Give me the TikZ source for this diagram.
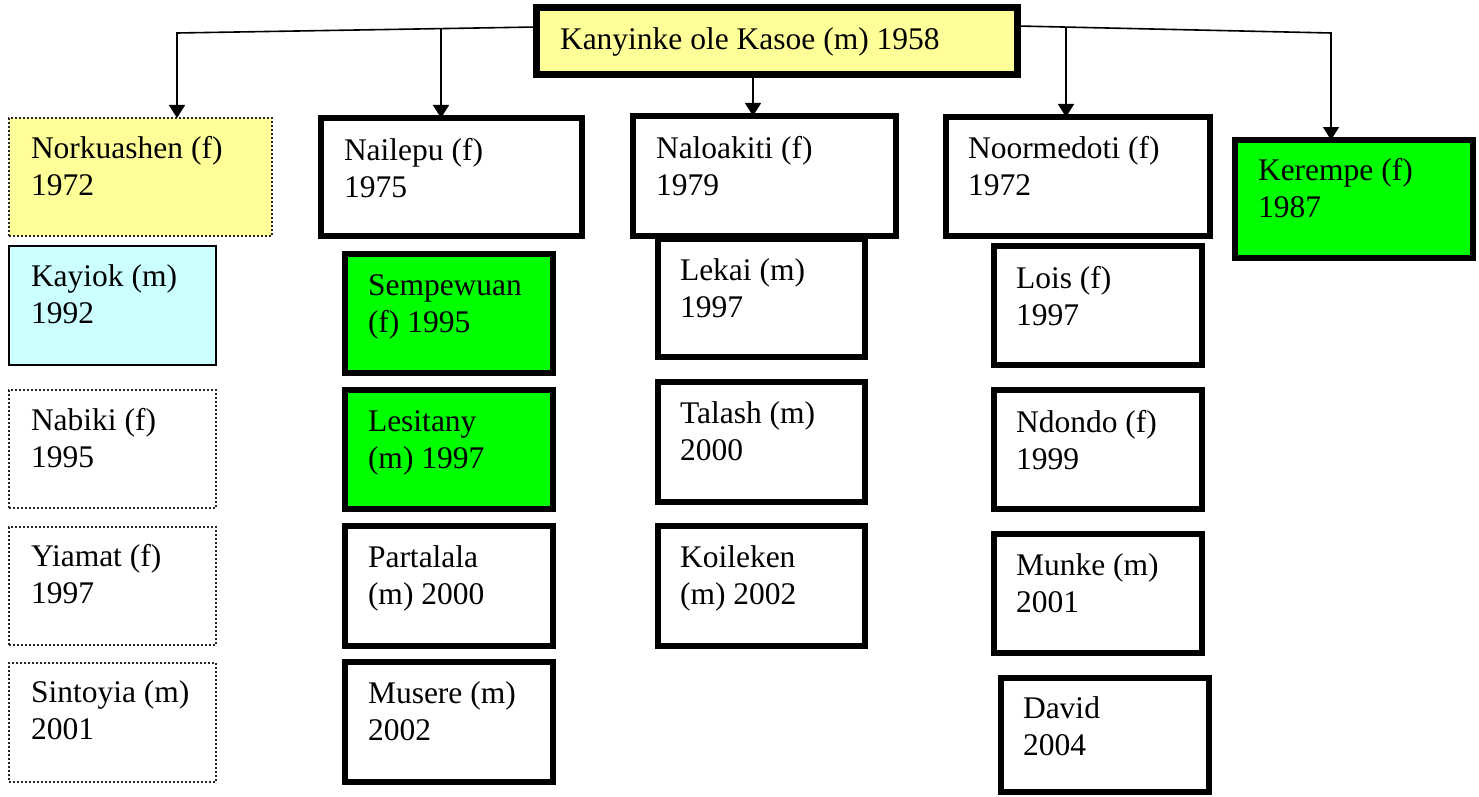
\documentclass[tikz,border=0pt]{standalone}
\usepackage{fontspec}
\setmainfont{Liberation Serif}
\usetikzlibrary{arrows.meta}

\definecolor{paleyellow}{HTML}{FFFF99}
\definecolor{palecyan}{HTML}{CCFFFF}
\definecolor{brightgreen}{HTML}{00FF00}

% box: name, style, line width, outer x1, y1, x2, y2
\newcommand\mkbox[7]{%
  \node[#2, line width=#3pt, minimum width={(#6-#4-#3)*1pt},
        minimum height={(#7-#5-#3)*1pt}, anchor=north west]
        (#1) at ({#4+#3/2},{#5+#3/2}) {};}
% two-line caption: name, left x, first baseline y, line 1, line 2
\newcommand\mktext[5]{%
  \node[txt] (#1) at (#2,#3) {\begin{tabular}[t]{@{}l@{}}#4\\#5\end{tabular}};}

\tikzset{
  boxbase/.style={rectangle, inner sep=0pt, outer sep=0pt, draw=black},
  heavy/.style={boxbase, fill=white},
  thinbox/.style={boxbase, fill=white},
  dotbox/.style={boxbase, fill=white, draw=black!85, dash pattern=on 2pt off 2pt},
  txt/.style={anchor=base west, inner sep=0pt, outer sep=0pt,
              font=\fontsize{31.5}{37}\selectfont},
  conn/.style={draw=black, line width=1.6pt},
  arr/.style={conn, -{Triangle[length=13pt,width=16pt]}},
}

\begin{document}
\begin{tikzpicture}[x=1pt,y=-1pt]
\useasboundingbox[fill=white] (0,0) rectangle (1479,797);

% parent
\mkbox{root}{heavy, fill=paleyellow}{7}{533}{4}{1021}{78}
\node[txt] (troot) at (560,50) {Kanyinke ole Kasoe (m) 1958};

% first family
\mkbox{nork}{dotbox, fill=paleyellow}{2}{8}{117}{273}{237}
\mktext{tnork}{31}{158}{Norkuashen (f)}{1972}
\mkbox{kayiok}{thinbox, fill=palecyan}{1.8}{8}{245}{217}{366}
\mktext{tkayiok}{31}{286}{Kayiok (m)}{1992}
\mkbox{nabiki}{dotbox}{2}{8}{389}{217}{509}
\mktext{tnabiki}{31}{430}{Nabiki (f)}{1995}
\mkbox{yiamat}{dotbox}{2}{8}{526}{217}{646}
\mktext{tyiamat}{31}{566}{Yiamat (f)}{1997}
\mkbox{sintoyia}{dotbox}{2}{8}{662}{217}{783}
\mktext{tsintoyia}{31}{702}{Sintoyia (m)}{2001}

% second family
\mkbox{nailepu}{heavy}{6}{318}{115}{585}{239}
\mktext{tnailepu}{344}{160}{Nailepu (f)}{1975}
\mkbox{sempe}{heavy, fill=brightgreen}{6}{342}{251}{556}{376}
\mktext{tsempe}{368}{295}{Sempewuan}{(f) 1995}
\mkbox{lesit}{heavy, fill=brightgreen}{6}{342}{387}{556}{512}
\mktext{tlesit}{368}{431}{Lesitany}{(m) 1997}
\mkbox{partal}{heavy}{6}{342}{523}{556}{649}
\mktext{tpartal}{368}{567}{Partalala}{(m) 2000}
\mkbox{musere}{heavy}{6}{342}{659}{556}{785}
\mktext{tmusere}{368}{703}{Musere (m)}{2002}

% third family
\mkbox{lekai}{heavy}{6}{655}{236}{868}{360}
\mktext{tlekai}{680}{280}{Lekai (m)}{1997}
\mkbox{nalo}{heavy}{6}{630}{113}{899}{239}
\mktext{tnalo}{656}{158}{Naloakiti (f)}{1979}
\mkbox{talash}{heavy}{6}{655}{379}{868}{505}
\mktext{ttalash}{680}{423}{Talash (m)}{2000}
\mkbox{koil}{heavy}{6}{655}{523}{868}{649}
\mktext{tkoil}{680}{567}{Koileken}{(m) 2002}

% fourth family
\mkbox{noorm}{heavy}{6}{943}{114}{1213}{239}
\mktext{tnoorm}{968}{158}{Noormedoti (f)}{1972}
\mkbox{lois}{heavy}{6}{991}{243}{1205}{368}
\mktext{tlois}{1016}{288}{Lois (f)}{1997}
\mkbox{ndondo}{heavy}{6}{991}{387}{1205}{512}
\mktext{tndondo}{1016}{432}{Ndondo (f)}{1999}
\mkbox{munke}{heavy}{6}{991}{531}{1205}{656}
\mktext{tmunke}{1016}{575}{Munke (m)}{2001}
\mkbox{david}{heavy}{6}{998}{675}{1212}{795}
\mktext{tdavid}{1023}{718}{David}{2004}

% fifth family
\mkbox{kerempe}{heavy, fill=brightgreen}{6}{1232}{137}{1476}{261}
\mktext{tkerempe}{1258}{180}{Kerempe (f)}{1987}

% branch lines from the parent
\coordinate (lbend) at (177,33);
\coordinate (rbend) at (1331,33);
\coordinate (nldrop) at (441,28.6);
\coordinate (nodrop) at (1066,27);
\coordinate (nadrop) at (753,0);

\draw[arr] ([yshift=14pt]root.west) -- (lbend) -- (lbend |- nork.north);
\draw[arr] (nldrop) -- (nldrop |- nailepu.north);
\draw[arr] (nadrop |- root.south) -- (nadrop |- nalo.north);
\draw[arr] ([yshift=15pt]root.east) -- (rbend) -- (rbend |- kerempe.north);
\draw[arr] (nodrop) -- (nodrop |- noorm.north);
\end{tikzpicture}
\end{document}
